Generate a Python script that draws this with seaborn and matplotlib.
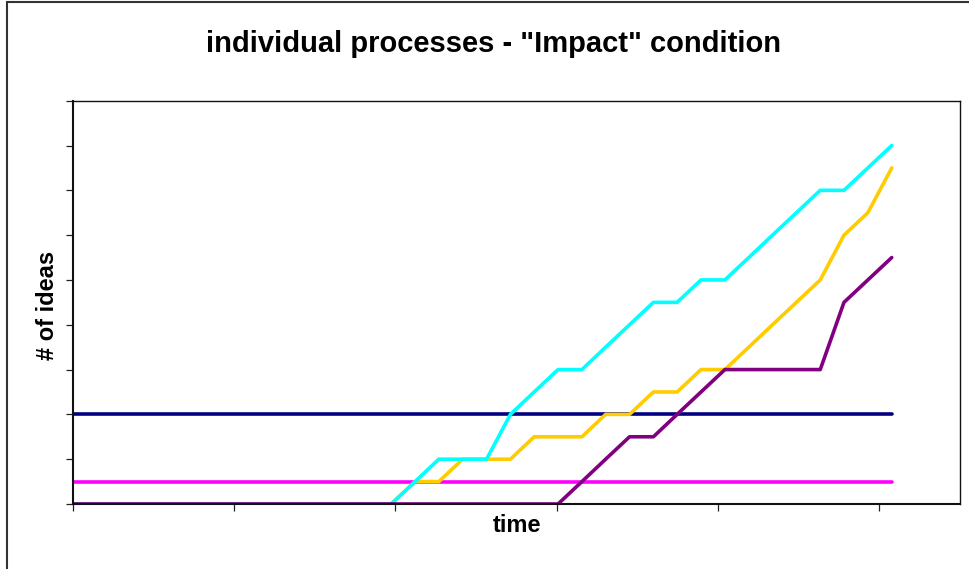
import matplotlib
matplotlib.use("Agg")
import matplotlib.pyplot as plt
from matplotlib.patches import Rectangle
import pandas as pd
import seaborn as sns

# Sampling times (minutes); the first sample is the start of the session
time = [0, 19.75, 21.23, 22.70, 24.18, 25.66, 27.14, 28.61, 30.09, 31.57, 33.04,
        34.52, 36.00, 37.47, 38.95, 40.43, 41.91, 43.38, 44.86, 46.34, 47.81,
        49.29, 50.77]

# Cumulative number of ideas per participant
navy = [2] * 23
magenta = [0.5] * 23
gold = [0, 0, 0.5, 0.5, 1, 1, 1, 1.5, 1.5, 1.5, 2, 2, 2.5, 2.5, 3, 3, 3.5, 4,
        4.5, 5, 6, 6.5, 7.5]
cyan = [0, 0, 0.5, 1, 1, 1, 2, 2.5, 3, 3, 3.5, 4, 4.5, 4.5, 5, 5, 5.5, 6, 6.5,
        7, 7, 7.5, 8]
purple = [0, 0, 0, 0, 0, 0, 0, 0, 0, 0.5, 1, 1.5, 1.5, 2, 2.5, 3, 3, 3, 3, 3,
          4.5, 5, 5.5]

series = {"P1": navy, "P2": magenta, "P3": gold, "P4": cyan, "P5": purple}
colors = {"P1": "#000080", "P2": "#FF00FF", "P3": "#FFCC00", "P4": "#00FFFF",
          "P5": "#800080"}

df = pd.concat(
    [pd.DataFrame({"time": time, "ideas": vals, "who": name})
     for name, vals in series.items()],
    ignore_index=True,
)

sns.set_theme(style="white")
plt.rcParams["font.family"] = ["Liberation Sans", "DejaVu Sans"]
plt.rcParams["text.color"] = "black"

fig = plt.figure(figsize=(9.69, 5.69), dpi=100)
ax = fig.add_axes([72.5 / 969, 1 - 504 / 569, (960 - 72.5) / 969, (504 - 100.7) / 569])

sns.lineplot(data=df, x="time", y="ideas", hue="who", hue_order=list(series),
             palette=colors, linewidth=2.6, legend=False, sort=False,
             estimator=None, ax=ax)

ax.set_xlim(0, 55)
ax.set_ylim(0, 9)
ax.set_xticks(range(0, 51, 10))
ax.set_yticks(range(0, 10))
ax.set_xticklabels([])
ax.set_yticklabels([])
ax.set_xlabel("")
ax.set_ylabel("")
ax.tick_params(axis="both", direction="out", length=5, width=0.9, color="#222222",
               bottom=True, left=True)
for s in ax.spines.values():
    s.set_color("#111111")
    s.set_linewidth(1.0)
ax.spines["left"].set_linewidth(1.5)
ax.spines["bottom"].set_linewidth(1.5)

fig.text(493 / 969, 1 - 44 / 569, 'individual processes - "Impact" condition',
         ha="center", va="center", fontsize=21, fontweight="bold", color="black")
fig.text(47 / 969, 1 - 305 / 569, "# of ideas", ha="center", va="center",
         rotation=90, fontsize=17, fontweight="bold", color="black")
fig.text(517 / 969, 1 - 525 / 569, "time", ha="center", va="center",
         fontsize=17, fontweight="bold", color="black")

# Chart frame (extends past the right and bottom edges)
fig.patches.append(Rectangle((7 / 969, -0.1), 1.2, (1 - 1.5 / 569) + 0.1,
                             transform=fig.transFigure, fill=False,
                             edgecolor="#333333", linewidth=1.5))

fig.savefig("out.png", dpi=100)
